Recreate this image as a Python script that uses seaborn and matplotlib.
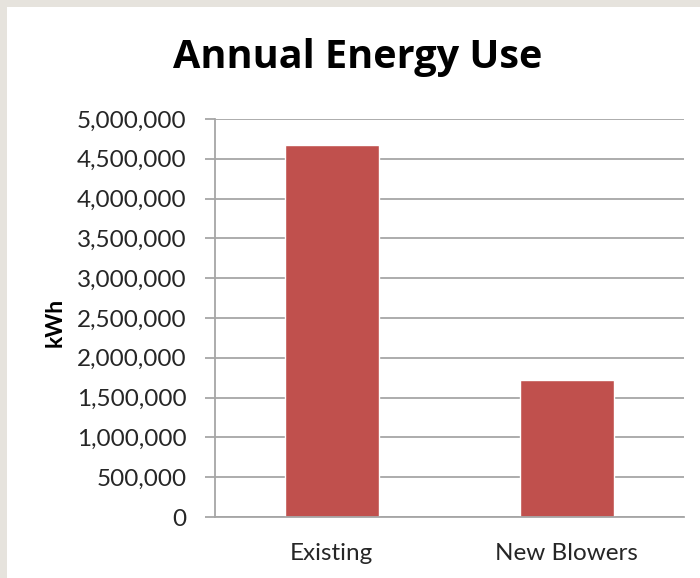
import matplotlib
matplotlib.use("Agg")
import matplotlib.pyplot as plt
import matplotlib.ticker as mticker
import matplotlib.patches as mpatches
import seaborn as sns
import pandas as pd

# data
categories = ["Existing", "New Blowers"]
energy_kwh = [4670000, 1720000]

sns.set_style("white")
plt.rcParams['font.family'] = ['Lato', 'DejaVu Sans']

df = pd.DataFrame({"Scenario": categories, "kWh": energy_kwh})

W, H = 700, 578
fig = plt.figure(figsize=(7, 5.78), dpi=100)
fig.patch.set_facecolor("#E6E3DD")
# white slide panel behind everything
fig.patches.append(mpatches.Rectangle((7 / W, 0), 1, 1 - 7 / H, transform=fig.transFigure,
                                      facecolor="white", edgecolor="none", zorder=-1))

ax = fig.add_axes([214.5 / W, 1 - 517 / H, (684 - 214.5) / W, (517 - 119) / H])
ax.set_zorder(1)
sns.barplot(data=df, x="Scenario", y="kWh", color="#C0504D", saturation=1,
            width=0.4, ax=ax)

grid_col = "#A6A6A6"
ax.set_ylim(0, 5000000)
ax.set_xlim(-0.5, 1.5)
ax.yaxis.set_major_locator(mticker.MultipleLocator(500000))
ax.yaxis.set_major_formatter(mticker.StrMethodFormatter("{x:,.0f}"))
ax.yaxis.grid(True, color=grid_col, linewidth=1.3)
ax.set_axisbelow(True)

ax.set_xticks([0, 1])
ax.set_xticks([-0.5, 0.5, 1.5], minor=True)
ax.tick_params(axis="x", which="major", length=0, pad=19, labelsize=17.5, labelcolor="#262626")
ax.tick_params(axis="x", which="minor", length=7, width=1.3, color=grid_col, direction="out")
ax.tick_params(axis="y", length=7, width=1.3, color=grid_col, pad=13, labelsize=17.5,
               labelcolor="#262626", direction="out", left=True)

for side in ["top", "right"]:
    ax.spines[side].set_visible(False)
for side in ["left", "bottom"]:
    ax.spines[side].set_color(grid_col)
    ax.spines[side].set_linewidth(1.3)

ax.set_xlabel("")
ax.set_ylabel("")

fig.text(358 / W, 1 - 68 / H, "Annual Energy Use", ha="center", va="baseline",
         fontsize=28.5, fontweight="bold", color="black", family=["Open Sans", "DejaVu Sans"])
fig.text(55 / W, 1 - 322 / H, "kWh", rotation=90, ha="center", va="center",
         fontsize=16.5, fontweight="bold", color="black")

fig.savefig("out.png", dpi=100, facecolor=fig.get_facecolor())
